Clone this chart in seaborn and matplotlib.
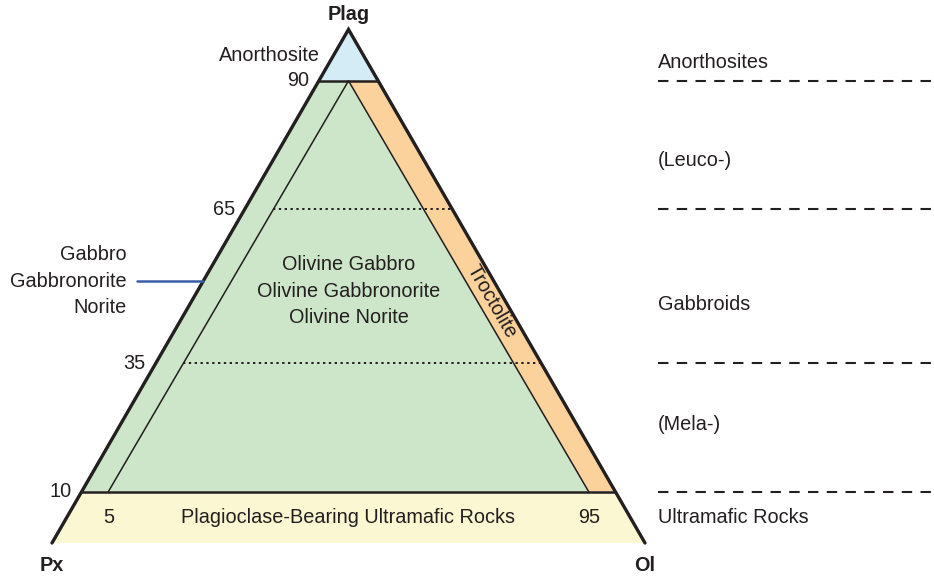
import numpy as np
import pandas as pd
import matplotlib.pyplot as plt
import seaborn as sns

# Plagioclase - Pyroxene - Olivine classification (gabbroic rocks)
plag_levels = [90, 65, 35, 10]          # % Plag boundaries
level_labels = ['90', '65', '35', '10']
ol_ratio_bounds = [5, 95]               # Ol/(Ol+Px) % bounds at the 10 % Plag line
ratio_labels = ['5', '95']
apex_labels = ['Plag', 'Px', 'Ol']
inner_field = ['Olivine Gabbro', 'Olivine Gabbronorite', 'Olivine Norite']
side_field = ['Gabbro', 'Gabbronorite', 'Norite']
right_classes = ['Anorthosites', '(Leuco-)', 'Gabbroids', '(Mela-)', 'Ultramafic Rocks']
right_class_plag = [93.5, 74.5, 46.5, 23, 5]

H = np.sqrt(3) / 2
PX = 593.0  # pixels per unit side


def tern(p, r):
    """p: plag %, r: Ol/(Ol+Px) %  ->  cartesian"""
    p = np.asarray(p, float) / 100
    r = np.asarray(r, float) / 100
    return p * 0.5 + (1 - p) * r, p * H


def left_edge(p):
    return tern(p, 0)


def right_edge(p):
    return tern(p, 100)


sns.set_theme(style='white')
plt.rcParams['font.family'] = ['Liberation Sans', 'DejaVu Sans']
txt = '#231f20'
fs = 14.3

fig = plt.figure(figsize=(9.34, 5.79), dpi=100)
ax = fig.add_axes([0, 0, 1, 1])
ax.set_xlim(-52 / PX, (934 - 52) / PX)
ax.set_ylim(-(579 - 543) / PX, 543 / PX)
ax.set_aspect('equal')
ax.axis('off')

p_top, p_hi, p_lo, p_bot = plag_levels
r_lo, r_hi = ol_ratio_bounds

# fields
top_pts = [left_edge(p_top), tern(100, 0), right_edge(p_top)]
ax.fill(*zip(*top_pts), color='#d4ecf6', lw=0)
mid_pts = [left_edge(p_bot), left_edge(p_top), right_edge(p_top), right_edge(p_bot)]
ax.fill(*zip(*mid_pts), color='#cde5c8', lw=0)
apex_in = tern(p_top, 50)
tro_pts = [apex_in, right_edge(p_top), right_edge(p_bot), tern(p_bot, r_hi)]
ax.fill(*zip(*tro_pts), color='#fbd19c', lw=0)
bot_pts = [tern(0, 0), left_edge(p_bot), right_edge(p_bot), tern(0, 100)]
ax.fill(*zip(*bot_pts), color='#faf7d2', lw=0)

# inner boundaries
for r in ol_ratio_bounds:
    seg = pd.DataFrame(dict(zip(['x', 'y'], zip(apex_in, tern(p_bot, r)))))
    sns.lineplot(data=seg, x='x', y='y', sort=False, color=txt, lw=1.1, ax=ax)
for p in [p_top, p_bot]:
    seg = pd.DataFrame(dict(zip(['x', 'y'], zip(left_edge(p), right_edge(p)))))
    sns.lineplot(data=seg, x='x', y='y', sort=False, color=txt, lw=1.8, ax=ax)
for p in [p_hi, p_lo]:
    t = (p_top - p) / (p_top - p_bot)
    x0 = apex_in[0] + t * (tern(p_bot, r_lo)[0] - apex_in[0])
    seg = pd.DataFrame({'x': [x0, right_edge(p)[0]], 'y': [p / 100 * H] * 2})
    sns.lineplot(data=seg, x='x', y='y', sort=False, color=txt, lw=1.4,
                 linestyle=(0, (1.2, 1.8)), ax=ax)

# outer triangle
outer = pd.DataFrame({'x': [0, 0.5, 1, 0], 'y': [0, H, 0, 0]})
sns.lineplot(data=outer, x='x', y='y', sort=False, color=txt, lw=2.4, ax=ax)
ax.get_lines()[-1].set_solid_joinstyle('miter')

# apex labels
ax.annotate(apex_labels[0], (0.5, H), xytext=(0, 5), textcoords='offset pixels',
            ha='center', va='bottom', fontsize=fs, fontweight='bold', color=txt)
ax.annotate(apex_labels[1], (0, 0), xytext=(0, -13), textcoords='offset pixels',
            ha='center', va='top', fontsize=fs, fontweight='bold', color=txt)
ax.annotate(apex_labels[2], (1, 0), xytext=(0, -13), textcoords='offset pixels',
            ha='center', va='top', fontsize=fs, fontweight='bold', color=txt)

# level labels on left edge
for p, lab in zip(plag_levels, level_labels):
    ax.annotate(lab, left_edge(p), xytext=(-10, 0), textcoords='offset pixels',
                ha='right', va='center', fontsize=fs, color=txt)
ax.annotate('Anorthosite', left_edge(95), xytext=(-14, 0), textcoords='offset pixels',
            ha='right', va='center', fontsize=fs, color=txt)

# ratio labels in bottom strip
for r, lab in zip(ol_ratio_bounds, ratio_labels):
    ax.text(tern(p_bot, r)[0], tern(5, 50)[1], lab, ha='center', va='center',
            fontsize=fs, color=txt)
ax.text(0.5, tern(5, 50)[1], 'Plagioclase-Bearing Ultramafic Rocks', ha='center',
        va='center', fontsize=fs, color=txt)

# field names
ax.text(0.5, tern(49, 50)[1], '\n'.join(inner_field), ha='center', va='center',
        fontsize=fs, color=txt, linespacing=1.5)
tx = (apex_in[0] + right_edge(p_top)[0]) / 2
bx = (tern(p_bot, r_hi)[0] + right_edge(p_bot)[0]) / 2
t = (p_top - 47) / (p_top - p_bot)
ax.text(tx + t * (bx - tx), 0.47 * H, 'Troctolite', rotation=-60, rotation_mode='anchor',
        ha='center', va='center', fontsize=fs, color=txt)

# gabbro / norite pointer
lx, ly = left_edge(51)
ax.plot([lx - 66 / PX, lx], [ly, ly], color='#3a5da8', lw=1.8)
ax.text(lx - 77 / PX, ly, '\n'.join(side_field), ha='right', va='center',
        fontsize=fs, color=txt, linespacing=1.5)

# right-side classes
x_r = (658 - 52) / PX
for p in plag_levels:
    ax.plot([x_r, 2], [p / 100 * H] * 2, color=txt, lw=1.5, linestyle=(0, (5, 4)))
for lab, p in zip(right_classes, right_class_plag):
    ax.text(x_r, p / 100 * H, lab, ha='left', va='center', fontsize=fs, color=txt)

fig.savefig('out.png', dpi=100)
